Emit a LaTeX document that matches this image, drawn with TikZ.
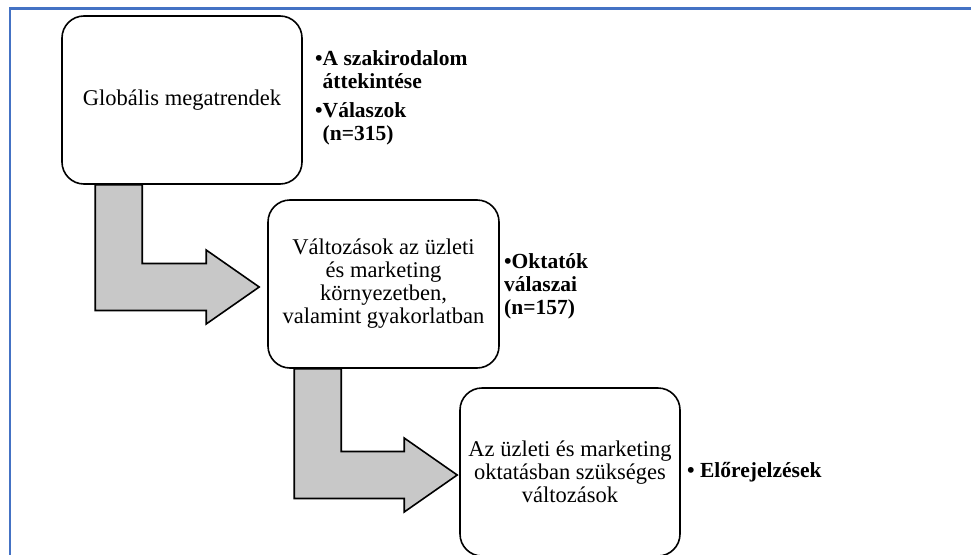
\documentclass[tikz,border=0pt]{standalone}
\usepackage{fontspec}
\setmainfont{Liberation Serif}
\usetikzlibrary{calc}

\definecolor{keret}{RGB}{68,114,196}
\definecolor{nyilszurke}{RGB}{200,200,200}

% bent block arrow: from the bottom of #1 to the left side of #2
% #3 = shaft offset from #1.south west, #4 = gap before #2.west
\newcommand{\fordulonyil}[4]{%
  \draw[nyil] let \p1=(#1.south west), \p2=(#2.west) in
    (\x1+#3pt,\y1) -- (\x1+#3pt+47pt,\y1)
    -- (\x1+#3pt+47pt,\y2+20.5pt) -- (\x2-#4pt-53pt,\y2+20.5pt)
    -- (\x2-#4pt-53pt,\y2+34pt) -- (\x2-#4pt,\y2-3pt)
    -- (\x2-#4pt-53pt,\y2-40pt) -- (\x2-#4pt-53pt,\y2-26.5pt)
    -- (\x1+#3pt,\y2-26.5pt) -- cycle;}

\begin{document}
\begin{tikzpicture}[x=1pt,y=-1pt,
  doboz/.style={draw, line width=1.6pt, fill=white, rounded corners=22pt,
    align=center, font=\fontsize{22.5}{23}\selectfont},
  felsorolas/.style={anchor=base west, inner sep=0pt,
    font=\fontsize{21.5}{23}\selectfont\bfseries},
  nyil/.style={line width=1.6pt, draw=black, fill=nyilszurke, line join=miter}]
\useasboundingbox (0,0) rectangle (971,554);
\draw[keret, line width=2.5pt] (10,560) -- (10,8.3) -- (980,8.3);

\node[doboz, minimum width=240pt, minimum height=168pt] (globalis) at (182,100)
  {Globális megatrendek};
\node[doboz, minimum width=231pt, minimum height=168pt] (valtozasok) at (383.5,284)
  {Változások az üzleti\\és marketing\\környezetben,\\valamint gyakorlatban};
\node[doboz, minimum width=220pt, minimum height=168pt] (oktatas) at (570,472)
  {Az üzleti és marketing\\oktatásban szükséges\\változások};

\fordulonyil{globalis}{valtozasok}{34}{8}
\fordulonyil{valtozasok}{oktatas}{27}{2}

\node[felsorolas] (forras1) at (315,65)
  {\begin{tabular}[t]{@{}l@{}l@{}}
   •&A szakirodalom\\
    &áttekintése\\[6pt]
   •&Válaszok\\
    &(n=315)
   \end{tabular}};
\node[felsorolas] (forras2) at (504,268)
  {\begin{tabular}[t]{@{}l@{}}
   •Oktatók\\
   válaszai\\
   (n=157)
   \end{tabular}};
\node[felsorolas] (forras3) at (687,477) {• Előrejelzések};
\end{tikzpicture}
\end{document}
